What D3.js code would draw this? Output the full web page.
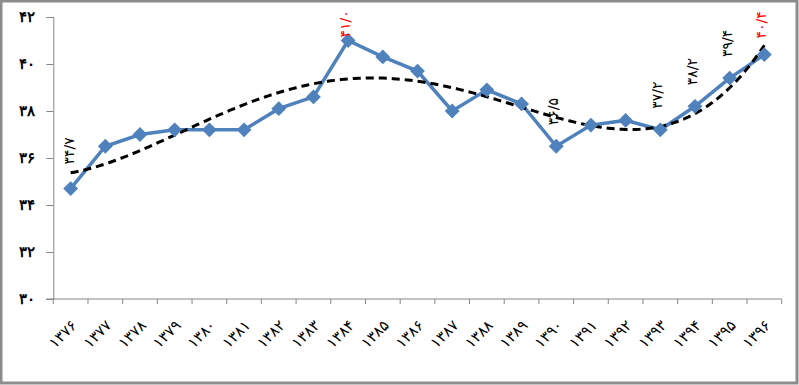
<!DOCTYPE html>
<html>
<head>
<meta charset="utf-8">
<script src="https://cdn.jsdelivr.net/npm/d3@7"></script>
<style>
  body { margin: 0; background: #fff; }
  svg { display: block; font-family: "DejaVu Sans", sans-serif; }
</style>
</head>
<body>
<svg id="chart"></svg>
<script>
// years (persian calendar) on the x axis
const years = ["۱۳۷۶", "۱۳۷۷", "۱۳۷۸", "۱۳۷۹", "۱۳۸۰", "۱۳۸۱", "۱۳۸۲", "۱۳۸۳", "۱۳۸۴", "۱۳۸۵", "۱۳۸۶",
               "۱۳۸۷", "۱۳۸۸", "۱۳۸۹", "۱۳۹۰", "۱۳۹۱", "۱۳۹۲", "۱۳۹۳", "۱۳۹۴", "۱۳۹۵", "۱۳۹۶"];
const values = [34.7, 36.5, 37.0, 37.2, 37.2, 37.2, 38.1, 38.6, 41.0, 40.3, 39.7,
                38.0, 38.9, 38.3, 36.5, 37.4, 37.6, 37.2, 38.2, 39.4, 40.4];
const yTicks = [30, 32, 34, 36, 38, 40, 42];
const labelled = [0, 8, 14, 17, 18, 19, 20];   // points that carry a value label
const highlighted = [8, 20];                     // red labels
const trendOrder = 4;

const width = 799, height = 385;
const plotL = 53.3, plotR = 781.7, plotT = 17, plotB = 299;

const toFa = s => String(s).replace(/\d/g, d => "۰۱۲۳۴۵۶۷۸۹"[d]);
const fmt = v => toFa(v.toFixed(1)).replace(".", "/");

const svg = d3.select("#chart")
    .attr("width", width)
    .attr("height", height);

// outer frame
svg.append("rect")
    .attr("x", 1).attr("y", 1)
    .attr("width", width - 3).attr("height", height - 3)
    .attr("fill", "#fff")
    .attr("stroke", "#8c8c8c")
    .attr("stroke-width", 3);

const x = d3.scaleBand().domain(years).range([plotL, plotR]).padding(0);
const y = d3.scaleLinear().domain([30, 42]).range([plotB, plotT]);
const cx = d => x(d) + x.bandwidth() / 2;

// y axis
const yAxis = svg.append("g")
    .attr("transform", `translate(${plotL},0)`)
    .call(d3.axisLeft(y).tickValues(yTicks).tickSize(7).tickFormat(d => toFa(d)));
yAxis.select(".domain").attr("stroke", "#868686");
yAxis.selectAll(".tick line").attr("stroke", "#868686");
yAxis.selectAll("text")
    .attr("x", -18)
    .attr("fill", "#000")
    .style("font-size", "15px")
    .style("font-weight", "bold");

// x axis: ticks on category boundaries
const xg = svg.append("g");
xg.append("line")
    .attr("x1", plotL - 7).attr("x2", plotR)
    .attr("y1", plotB).attr("y2", plotB)
    .attr("stroke", "#868686");
xg.selectAll(".xt")
    .data(d3.range(years.length + 1))
    .enter()
    .append("line")
    .attr("x1", i => plotL + i * x.bandwidth())
    .attr("x2", i => plotL + i * x.bandwidth())
    .attr("y1", plotB).attr("y2", plotB + 5)
    .attr("stroke", "#868686");
xg.selectAll(".xl")
    .data(years)
    .enter()
    .append("text")
    .attr("transform", d => `translate(${cx(d) + 4},${plotB + 24}) rotate(-45)`)
    .attr("text-anchor", "end")
    .attr("dominant-baseline", "middle")
    .style("font-size", "15px")
    .text(d => d);

// polynomial trendline (least squares, x scaled to [-1,1])
function polyFit(xs, ys, order) {
    const n = order + 1;
    const A = Array.from({length: n}, () => new Array(n + 1).fill(0));
    xs.forEach((xv, k) => {
        for (let i = 0; i < n; i++) {
            for (let j = 0; j < n; j++) A[i][j] += Math.pow(xv, i + j);
            A[i][n] += Math.pow(xv, i) * ys[k];
        }
    });
    for (let c = 0; c < n; c++) {
        let p = c;
        for (let r = c + 1; r < n; r++) if (Math.abs(A[r][c]) > Math.abs(A[p][c])) p = r;
        [A[c], A[p]] = [A[p], A[c]];
        for (let r = 0; r < n; r++) {
            if (r === c) continue;
            const f = A[r][c] / A[c][c];
            for (let k = c; k <= n; k++) A[r][k] -= f * A[c][k];
        }
    }
    return A.map((row, i) => row[n] / row[i]);
}
const N = values.length;
const sx = i => (i - (N - 1) / 2) / ((N - 1) / 2);
const coef = polyFit(values.map((v, i) => sx(i)), values, trendOrder);
const poly = t => coef.reduce((s, c, i) => s + c * Math.pow(t, i), 0);
const trendPts = d3.range(0, N - 1 + 1e-9, 0.1).map(i => [cx(years[0]) + i * x.bandwidth(), y(poly(sx(i)))]);

const line = d3.line().x(d => cx(d.year)).y(d => y(d.value));
const data = years.map((yr, i) => ({year: yr, value: values[i], i: i}));

svg.append("path")
    .datum(data)
    .attr("d", line)
    .attr("fill", "none")
    .attr("stroke", "#4f81bd")
    .attr("stroke-width", 3.5);

svg.append("path")
    .attr("d", d3.line()(trendPts))
    .attr("fill", "none")
    .attr("stroke", "#000")
    .attr("stroke-width", 3)
    .attr("stroke-dasharray", "8,5");

// diamond markers
svg.selectAll(".pt")
    .data(data)
    .enter()
    .append("path")
    .attr("d", d3.symbol().type(d3.symbolSquare).size(110))
    .attr("transform", d => `translate(${cx(d.year)},${y(d.value)}) rotate(45)`)
    .attr("fill", "#4f81bd");

// value labels, rotated
svg.selectAll(".lbl")
    .data(data.filter(d => labelled.includes(d.i)))
    .enter()
    .append("text")
    .attr("transform", d => {
        let dx = 2, dy = -21;
        if (d.i === 0) { dx = 3; dy = -24; }
        if (d.i === 8) { dy = -3; }
        if (d.i === 20) { dy = -16; }
        return `translate(${cx(d.year) + dx},${y(d.value) + dy}) rotate(-90)`;
    })
    .attr("text-anchor", "start")
    .style("font-size", "14px")
    .attr("fill", d => highlighted.includes(d.i) ? "#ff0000" : "#000")
    .text(d => fmt(d.value));
</script>
</body>
</html>
